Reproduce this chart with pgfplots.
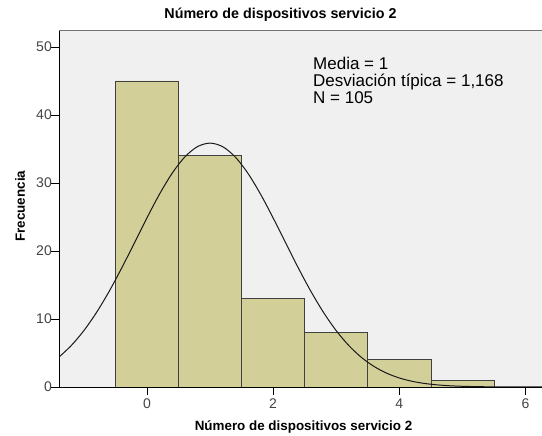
\documentclass[border=0pt]{standalone}
\usepackage{pgfplots}
\pgfplotsset{compat=1.18}
\usepackage{fontspec}
\setmainfont{Liberation Sans}
\definecolor{barfill}{HTML}{D3CF98}
\definecolor{bgc}{HTML}{F0F0F0}
\definecolor{tickc}{HTML}{444444}
\begin{document}
\begin{tikzpicture}
\path[use as bounding box] (-59.5pt,-49pt) rectangle (482.5pt,387pt);
\begin{axis}[
  at={(0,0)}, anchor=south west,
  scale only axis, width=482.5pt, height=356.6pt,
  xmin=-1.385, xmax=6.26, ymin=0, ymax=52.44,
  axis x line*=bottom, axis y line*=left,
  axis line style={black, line width=0.8pt, -},
  axis background/.style={fill=bgc},
  xtick={0,2,4,6}, ytick={0,10,20,30,40,50},
  tick align=outside, major tick length=8pt,
  tick style={black, line width=0.8pt},
  /pgf/number format/assume math mode=true,
  ticklabel style={font=\fontsize{14}{16}\selectfont, text=tickc, inner sep=1pt},
  xticklabel style={yshift=-3pt},
  yticklabel style={xshift=1.5pt},
  title={Número de dispositivos servicio 2},
  title style={font=\bfseries\fontsize{14.3}{16}\selectfont, at={(axis description cs:0.458,1.0264)}, anchor=center},
  xlabel={Número de dispositivos servicio 2},
  xlabel style={font=\bfseries\fontsize{13.4}{15}\selectfont, at={(axis description cs:0.5057,-0.112)}, anchor=center},
  ylabel={Frecuencia},
  ylabel style={font=\bfseries\fontsize{13.4}{15}\selectfont, at={(axis description cs:-0.0818,0.507)}, anchor=center, rotate=0},
  clip=true,
  after end axis/.code={\draw[black!55, line width=0.8pt] (rel axis cs:0,1) -- (rel axis cs:1,1);},
]
\addplot[ybar interval, fill=barfill, draw=black!75, line width=0.7pt] coordinates {
(-0.5,45) (0.5,34) (1.5,13) (2.5,8) (3.5,4) (4.5,1) (5.5,1)
};
\addplot[black!90, line width=1pt, smooth, no marks] coordinates {
(-1.4,4.343) (-1.2,6.085) (-1.0,8.279) (-0.8,10.939) (-0.6,14.034) (-0.4,17.486)
(-0.2,21.157) (0.0,24.859) (0.2,28.364) (0.4,31.431) (0.6,33.822) (0.8,35.342)
(1.0,35.864) (1.2,35.342) (1.4,33.822) (1.6,31.431) (1.8,28.364) (2.0,24.859)
(2.2,21.157) (2.4,17.486) (2.6,14.034) (2.8,10.939) (3.0,8.279) (3.2,6.085)
(3.4,4.343) (3.6,3.010) (3.8,2.026) (4.0,1.324) (4.2,0.841) (4.4,0.518)
(4.6,0.310) (4.8,0.180) (5.0,0.102) (5.2,0.056) (5.4,0.030) (5.6,0.015)
(5.8,0.008) (6.0,0.004) (6.2,0.002) (6.4,0.001)
};
\node[anchor=north west, inner sep=0pt, align=left, font=\fontsize{17}{16.9}\selectfont] at (axis description cs:0.5254,0.9254) {Media = 1\\Desviación típica = 1,168\\N = 105};
\end{axis}
\end{tikzpicture}
\end{document}
